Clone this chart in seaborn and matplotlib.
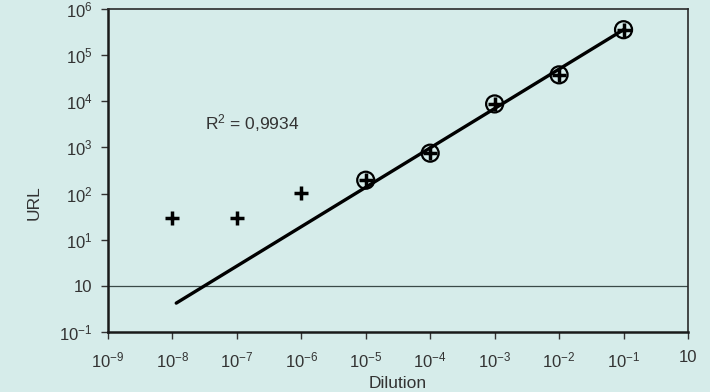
import seaborn as sns
import matplotlib.pyplot as plt
import pandas as pd

# dilution series, measured URL
dilution = [1e-8, 1e-7, 1e-6, 1e-5, 1e-4, 1e-3, 1e-2, 1e-1]
url = [30, 30, 105, 195, 750, 8700, 37000, 350000]
in_fit = [False, False, False, True, True, True, True, True]

# regression line ends
fit_x = [10 ** -7.94, 1e-1]
fit_y = [0.43, 350000]
r2_text = 'R$^2$ = 0,9934'

x_ticks = [1e-9, 1e-8, 1e-7, 1e-6, 1e-5, 1e-4, 1e-3, 1e-2, 1e-1, 1e0]
x_labels = ['$10^{-9}$', '$10^{-8}$', '$10^{-7}$', '$10^{-6}$', '$10^{-5}$',
            '$10^{-4}$', '$10^{-3}$', '$10^{-2}$', '$10^{-1}$', '10']
y_ticks = [1e-1, 1e0, 1e1, 1e2, 1e3, 1e4, 1e5, 1e6]
y_labels = ['$10^{-1}$', '10', '$10^{1}$', '$10^{2}$', '$10^{3}$',
            '$10^{4}$', '$10^{5}$', '$10^{6}$']

bg = '#d6ecea'
sns.set_style('white')
plt.rcParams['font.family'] = ['Liberation Sans', 'DejaVu Sans']
plt.rcParams['mathtext.fontset'] = 'custom'
plt.rcParams['mathtext.rm'] = 'Liberation Sans'
plt.rcParams['mathtext.it'] = 'Liberation Sans'

df = pd.DataFrame({'dilution': dilution, 'url': url, 'fit': in_fit})
fit_df = pd.DataFrame({'dilution': fit_x, 'url': fit_y})

fig, ax = plt.subplots(figsize=(7.1, 3.92), dpi=100)
fig.patch.set_facecolor(bg)
ax.set_facecolor(bg)
fig.subplots_adjust(left=0.152, right=0.969, bottom=0.152, top=0.978)

ax.set_xscale('log')
ax.set_yscale('log')

ax.axhline(1, color='#3a4a48', lw=0.9, zorder=1)
sns.lineplot(data=fit_df, x='dilution', y='url', color='black', lw=2.4, ax=ax, zorder=2)
sns.scatterplot(data=df[df['fit']], x='dilution', y='url', marker='o', s=150,
                facecolor='none', edgecolor='black', linewidth=1.6, ax=ax, zorder=3)
sns.scatterplot(data=df, x='dilution', y='url', marker='+', s=110,
                color='black', linewidth=2.5, ax=ax, zorder=4)

ax.set_xlim(1e-9, 1e0)
ax.set_ylim(1e-1, 1e6)
ax.set_xticks(x_ticks)
ax.set_xticklabels(x_labels)
ax.set_yticks(y_ticks)
ax.set_yticklabels(y_labels)
ax.minorticks_off()
ax.tick_params(axis='both', direction='out', length=5, width=1, colors='#333333',
               labelsize=12, bottom=True, left=True, pad=6)
ax.tick_params(axis='x', pad=8)

for side in ['left', 'bottom']:
    ax.spines[side].set_linewidth(1.8)
    ax.spines[side].set_color('#1a1a1a')
for side in ['top', 'right']:
    ax.spines[side].set_linewidth(1.2)
    ax.spines[side].set_color('#2a2a2a')

ax.set_xlabel('Dilution', fontsize=12.5, color='#333333')
ax.set_ylabel('URL', fontsize=12.5, color='#333333')
ax.xaxis.set_label_coords(0.5, -0.135)
ax.yaxis.set_label_coords(-0.115, 0.4)

ax.text(3.2e-8, 3.4e3, r2_text, fontsize=12.5, color='#333333', va='center')

fig.savefig('out.png', dpi=100, facecolor=bg)
